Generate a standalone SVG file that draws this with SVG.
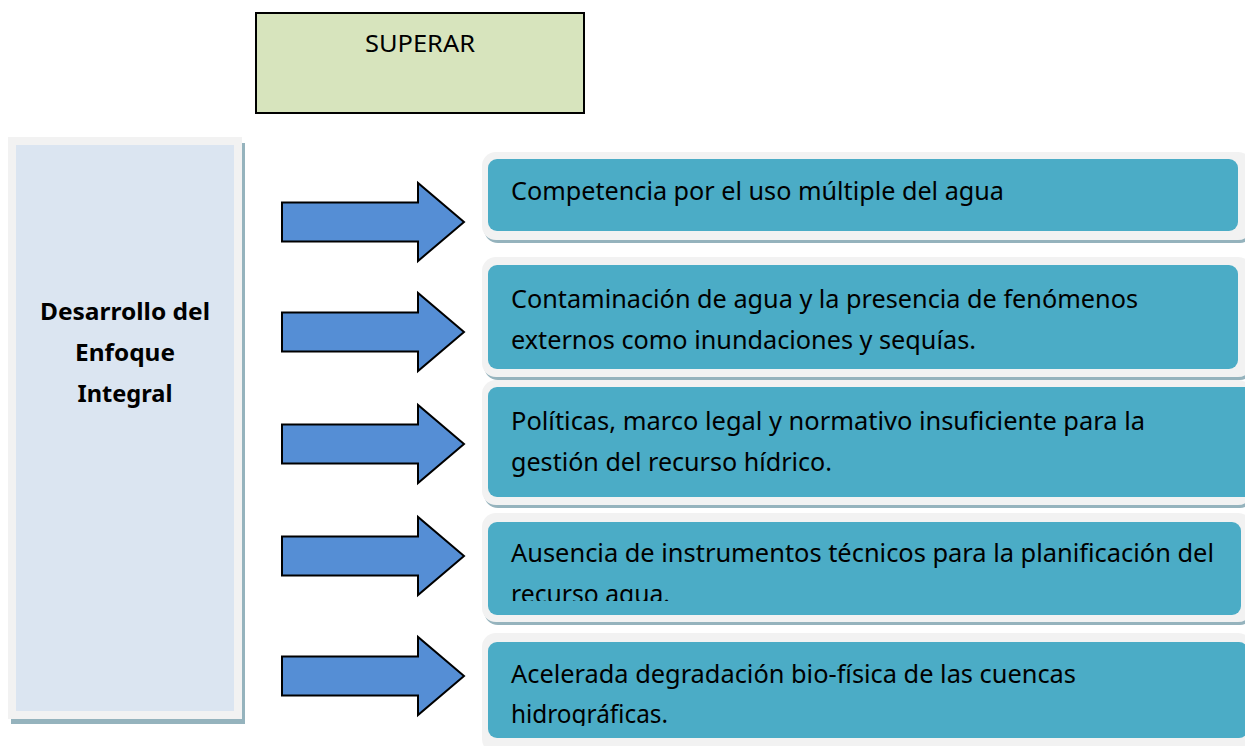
<svg xmlns="http://www.w3.org/2000/svg" width="1245" height="746" viewBox="0 0 1245 746">
<style>
.sh{fill:#95b3bd}
.fr{fill:#f2f2f2}
.in{fill:#4bacc6}
.t{font-family:"Noto Sans","Open Sans","Liberation Sans",sans-serif;font-size:25px;fill:#000}
.lb{font-family:"Noto Sans","Open Sans","Liberation Sans",sans-serif;font-size:24px;font-weight:bold;fill:#000;text-anchor:middle}
.arr{fill:#558ed5;stroke:#000;stroke-width:2;stroke-linejoin:miter}
</style>
<defs>
<path id="arrowShape" d="M0,-19.5 H136 V-39 L182,0 L136,39 V19.5 H0 Z"/>
<clipPath id="c4"><rect x="480" y="510" width="770" height="91"/></clipPath>
<clipPath id="c5"><rect x="480" y="630" width="770" height="96"/></clipPath>
</defs>
<rect width="1245" height="746" fill="#fff"/>

<g id="superar">
<rect x="256" y="13" width="328" height="100" fill="#d7e4bd" stroke="#000" stroke-width="2"/>
<text x="420" y="52" font-family="'Noto Sans','Open Sans',sans-serif" font-size="23" text-anchor="middle" textLength="110" lengthAdjust="spacingAndGlyphs">SUPERAR</text>
</g>

<g id="enfoque">
<rect x="11" y="143" width="234" height="581" class="sh"/>
<rect x="8" y="137" width="234" height="582" class="fr"/>
<rect x="16" y="145" width="218" height="566" fill="#dbe5f1"/>
<text class="lb" x="125" y="320" textLength="170" lengthAdjust="spacingAndGlyphs">Desarrollo del</text>
<text class="lb" x="125" y="361" textLength="100" lengthAdjust="spacingAndGlyphs">Enfoque</text>
<text class="lb" x="125" y="402" textLength="95" lengthAdjust="spacingAndGlyphs">Integral</text>
</g>

<g id="connectors">
<use href="#arrowShape" class="arr" transform="translate(282,222)"/>
<use href="#arrowShape" class="arr" transform="translate(282,332)"/>
<use href="#arrowShape" class="arr" transform="translate(282,444)"/>
<use href="#arrowShape" class="arr" transform="translate(282,556)"/>
<use href="#arrowShape" class="arr" transform="translate(282,676)"/>
</g>

<g id="box1">
<rect x="484" y="155" width="770" height="88" rx="14" class="sh"/>
<rect x="482" y="152" width="770" height="88" rx="14" class="fr"/>
<rect x="488" y="159" width="750" height="72" rx="9" class="in"/>
<text class="t" x="511" y="200" textLength="493" lengthAdjust="spacingAndGlyphs">Competencia por el uso múltiple del agua</text>
</g>

<g id="box2">
<rect x="484" y="260" width="770" height="120" rx="14" class="sh"/>
<rect x="482" y="257" width="770" height="120" rx="14" class="fr"/>
<rect x="488" y="265" width="750" height="104" rx="9" class="in"/>
<text class="t" x="511" y="308" textLength="627" lengthAdjust="spacingAndGlyphs">Contaminación de agua y la presencia de fenómenos</text>
<text class="t" x="511" y="349" textLength="465" lengthAdjust="spacingAndGlyphs">externos como inundaciones y sequías.</text>
</g>

<g id="box3">
<rect x="484" y="383" width="770" height="125" rx="14" class="sh"/>
<rect x="482" y="380" width="770" height="125" rx="14" class="fr"/>
<rect x="488" y="387" width="770" height="110" rx="9" class="in"/>
<text class="t" x="511" y="430" textLength="634" lengthAdjust="spacingAndGlyphs">Políticas, marco legal y normativo insuficiente para la</text>
<text class="t" x="511" y="471" textLength="321" lengthAdjust="spacingAndGlyphs">gestión del recurso hídrico.</text>
</g>

<g id="box4">
<rect x="484" y="516" width="770" height="109" rx="14" class="sh"/>
<rect x="482" y="513" width="770" height="109" rx="14" class="fr"/>
<rect x="488" y="522" width="753" height="93" rx="9" class="in"/>
<g clip-path="url(#c4)">
<text class="t" x="511" y="562" textLength="703" lengthAdjust="spacingAndGlyphs">Ausencia de instrumentos técnicos para la planificación del</text>
<text class="t" x="511" y="603" textLength="159" lengthAdjust="spacingAndGlyphs">recurso agua.</text>
</g>
</g>

<g id="box5">
<rect x="484" y="636" width="770" height="120" rx="14" class="sh"/>
<rect x="482" y="633" width="770" height="120" rx="14" class="fr"/>
<rect x="488" y="642" width="760" height="96" rx="9" class="in"/>
<g clip-path="url(#c5)">
<text class="t" x="511" y="683" textLength="565" lengthAdjust="spacingAndGlyphs">Acelerada degradación bio-física de las cuencas</text>
<text class="t" x="511" y="723" textLength="157" lengthAdjust="spacingAndGlyphs">hidrográficas.</text>
</g>
</g>
</svg>
